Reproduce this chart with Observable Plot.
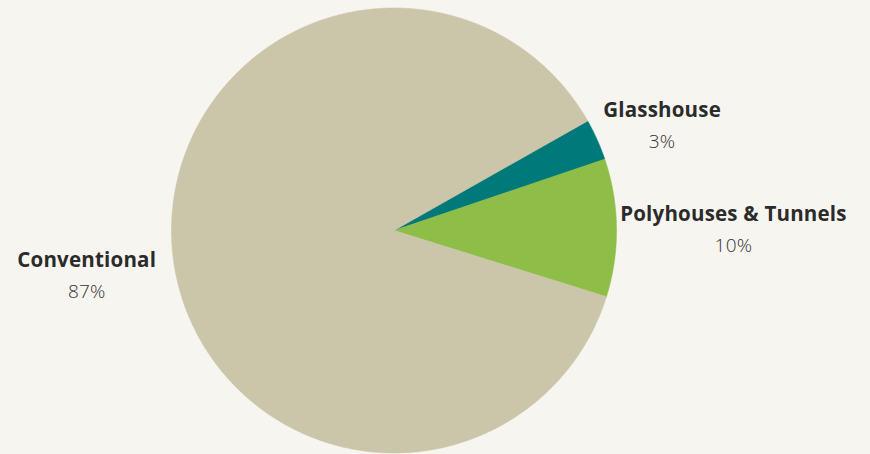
<!DOCTYPE html>
<html><head><meta charset="utf-8">
<script src="https://cdn.jsdelivr.net/npm/d3@7"></script>
<script src="https://cdn.jsdelivr.net/npm/@observablehq/plot@0.6"></script>
<style>
html,body{margin:0;padding:0;background:#f7f5f0;}
#chart{width:870px;height:454px;overflow:hidden;}
svg{display:block;}
</style></head><body><div id="chart"></div>
<script>
// ---- data ----
const categories = ["Glasshouse", "Polyhouses & Tunnels", "Conventional"];
const shares = [3, 10, 87];
const percentLabels = ["3%", "10%", "87%"];
const colors = ["#00797a", "#8fbe48", "#cbc6a9"];

// ---- layout ----
const W = 870, H = 454, cx = 393.5, cy = 230, R = 222.5;
const startAngle = 60.5 * Math.PI / 180;
const labelFont = "Open Sans";
const nameSize = 20.5, pctSize = 19, spacing = 0.2;
const labelNudge = {"Glasshouse": [0, -11.5], "Polyhouses & Tunnels": [-3, 2], "Conventional": [-10, 21]};

const rows = categories.map((c, i) => ({category: c, value: shares[i], pct: percentLabels[i]}));
const arcs = d3.pie().sort(null).value(d => d.value)
  .startAngle(startAngle).endAngle(startAngle + 2 * Math.PI)(rows);

// slice polygons in unit-circle coordinates (clockwise from top)
const pts = [];
arcs.forEach(a => {
  const c = a.data.category;
  pts.push({category: c, x: 0, y: 0});
  const n = Math.max(4, Math.ceil((a.endAngle - a.startAngle) / 0.005));
  for (let k = 0; k <= n; k++) {
    const t = a.startAngle + (a.endAngle - a.startAngle) * k / n;
    pts.push({category: c, x: Math.sin(t), y: Math.cos(t)});
  }
  pts.push({category: c, x: 0, y: 0});
});

// label positions
const ctx = document.createElement("canvas").getContext("2d");
function textW(t, weight, size) { ctx.font = `${weight} ${size}px "${labelFont}"`; return ctx.measureText(t).width + spacing * t.length; }
const labels = arcs.map(a => {
  const mid = (a.startAngle + a.endAngle) / 2;
  const r = 1.03;
  const side = Math.sin(mid) >= 0 ? 1 : -1;
  const w = Math.max(textW(a.data.category, 700, nameSize), textW(a.data.pct, 300, pctSize));
  const [nx, ny] = labelNudge[a.data.category];
  return {
    category: a.data.category, pct: a.data.pct,
    x: Math.sin(mid) * r + (side * w / 2 + nx) / R,
    y: Math.cos(mid) * r - ny / R
  };
});

const chart = Plot.plot({
  width: W, height: H, margin: 0,
  style: {background: "#f7f5f0", fontFamily: labelFont, letterSpacing: spacing + "px"},
  x: {domain: [-cx / R, (W - cx) / R], axis: null},
  y: {domain: [-(H - cy) / R, cy / R], axis: null},
  color: {domain: categories, range: colors},
  marks: [
    Plot.line(pts, {x: "x", y: "y", z: "category", fill: "category", stroke: "category", strokeWidth: 0.6, curve: "linear"}),
    Plot.text(labels, {x: "x", y: "y", text: "category", dy: -15, fontSize: nameSize, fontWeight: 700, fill: "#2b2b2b", textAnchor: "middle"}),
    Plot.text(labels, {x: "x", y: "y", text: "pct", dy: 16, fontSize: pctSize, fontWeight: 300, fill: "#333333", textAnchor: "middle"})
  ]
});
document.getElementById("chart").appendChild(chart);
</script>
</body></html>
